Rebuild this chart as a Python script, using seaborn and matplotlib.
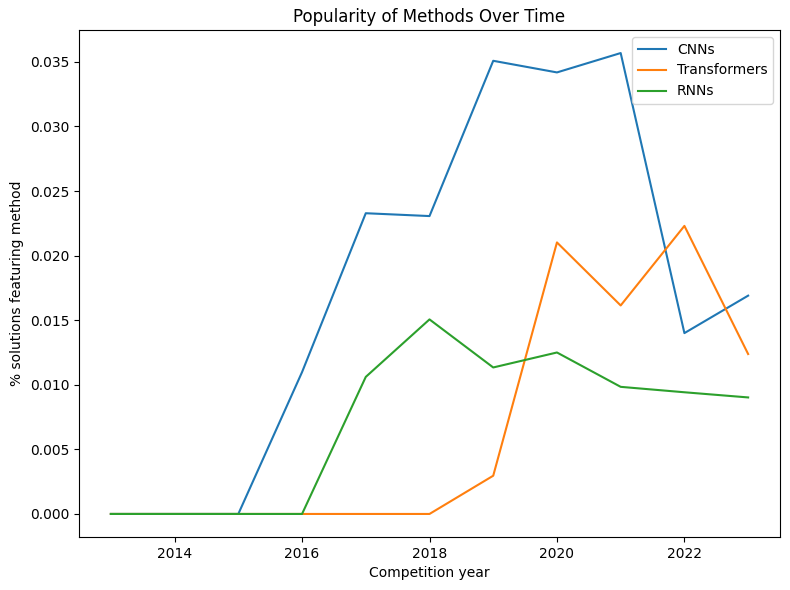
import pandas as pd
import seaborn as sns
from matplotlib import pyplot as plt

years = list(range(2013, 2024))
cnns = [0.0, 0.0, 0.0, 0.01098, 0.02328, 0.02306, 0.03508, 0.03418, 0.03568, 0.01400, 0.01690]
transformers = [0.0, 0.0, 0.0, 0.0, 0.0, 0.0, 0.00296, 0.02102, 0.01614, 0.02230, 0.01238]
rnns = [0.0, 0.0, 0.0, 0.0, 0.01061, 0.01506, 0.01134, 0.01250, 0.00984, 0.00942, 0.00902]
methods = ['CNNs', 'Transformers', 'RNNs']

# long format for seaborn
df = pd.DataFrame({
    'year': years * 3,
    'share': cnns + transformers + rnns,
    'method': [m for m in methods for _ in years],
})

fig, ax = plt.subplots(figsize=(7.9, 5.9), dpi=100)
sns.lineplot(data=df, x='year', y='share', hue='method', hue_order=methods,
             palette=['#1f77b4', '#ff7f0e', '#2ca02c'], ax=ax)
ax.set_title('Popularity of Methods Over Time')
ax.set_xlabel('Competition year')
ax.set_ylabel('% solutions featuring method')
ax.legend(title=None, loc='upper right')
fig.subplots_adjust(left=79/790, right=780/790, top=1-30/590, bottom=1-537/590)
plt.savefig('out.png', dpi=100)
